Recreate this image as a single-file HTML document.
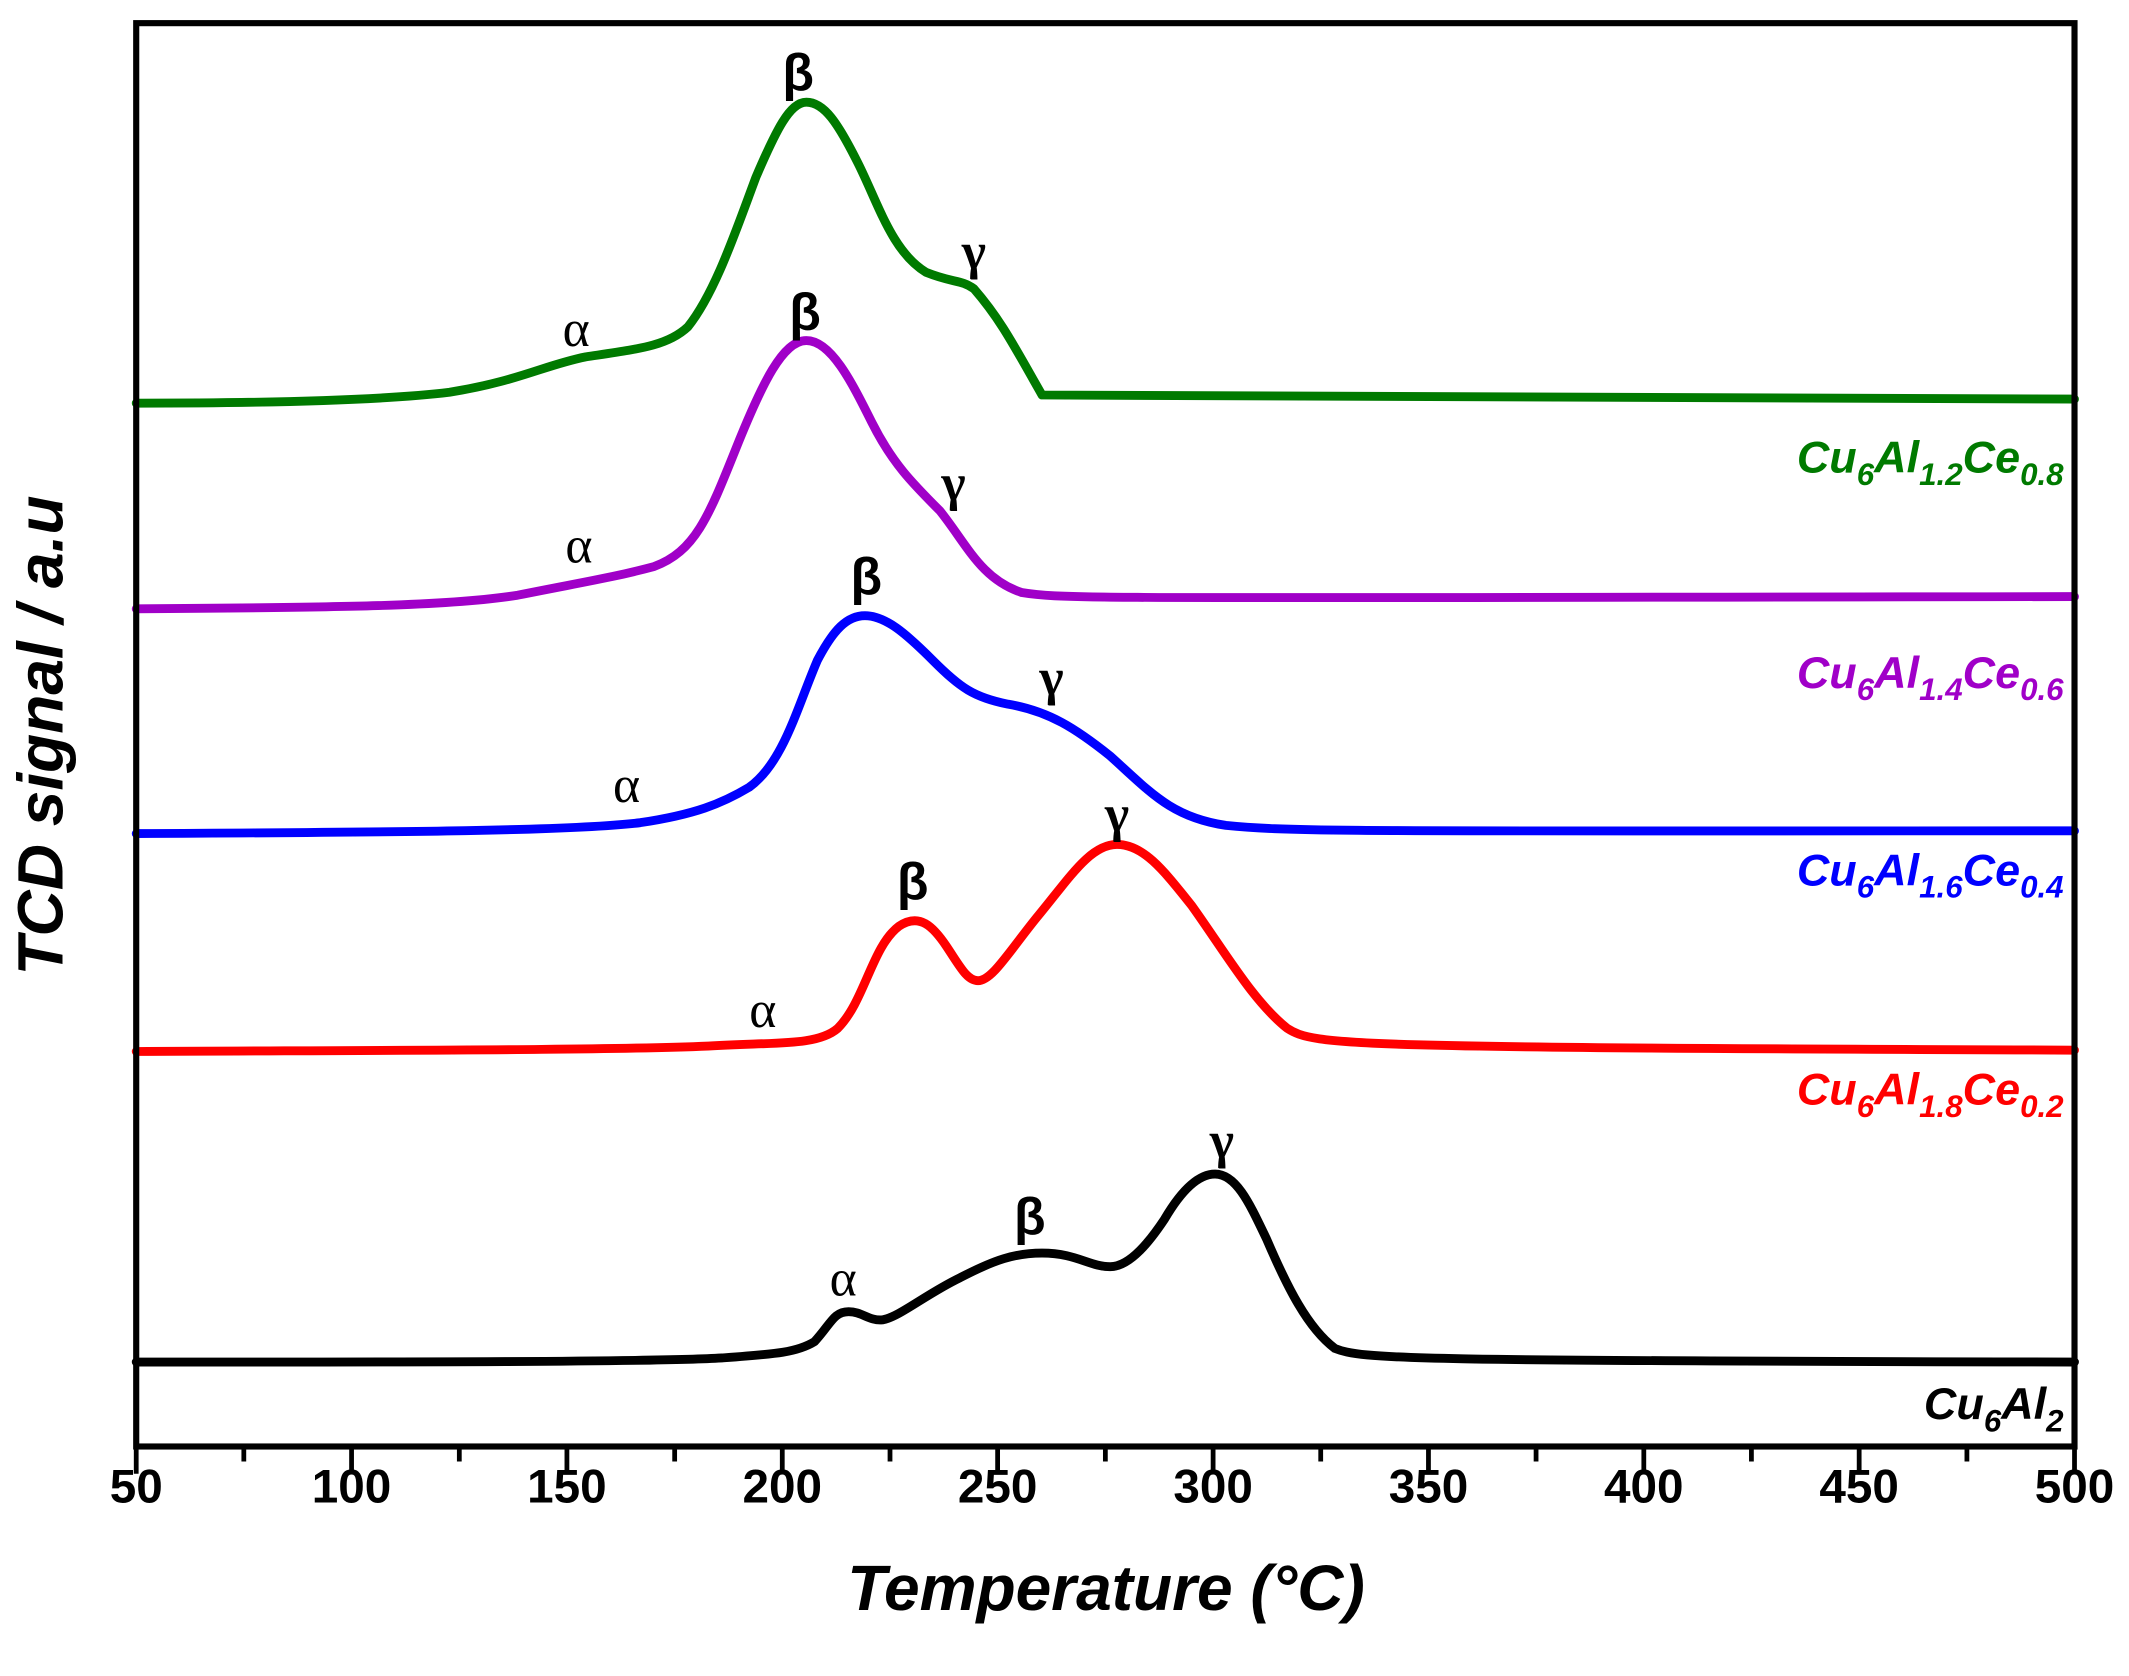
<!DOCTYPE html>
<html><head><meta charset="utf-8"><style>
html,body{margin:0;padding:0;background:#fff;}
svg{display:block;}
text{font-family:"Liberation Sans",sans-serif;}
.s{font-family:"Liberation Serif",serif;}
</style></head><body>
<svg width="2129" height="1676" viewBox="0 0 1563 1230.5" preserveAspectRatio="none" xmlns="http://www.w3.org/2000/svg">
<g fill="none" stroke-width="6.5" stroke-linejoin="round" stroke-linecap="round">
<path stroke="#007a00" d="M100,296 C200,296 280,294 330,288 C380,280 400,268 430,262 C470,256 490,254 505,240 C525,215 540,170 555,130 C570,95 580,75 592,75 C605,75 615,90 630,120 C645,150 655,185 680,200 C700,208 705,205 715,212 C735,235 745,255 765,290 L1523,293"/>
<path stroke="#a000c8" d="M100,447 C250,446 330,445 380,437 C430,427 450,424 480,416 C510,405 520,380 540,330 C560,280 575,250 592,250 C610,250 625,280 640,310 C655,340 670,355 690,375 C710,400 720,425 750,435 C780,440 800,439 1523,438"/>
<path stroke="#0000ff" d="M100,612 C300,611 420,610 470,604 C510,598 530,590 550,578 C575,560 585,520 600,485 C612,462 622,452 635,452 C650,452 665,465 685,485 C705,505 715,512 740,517 C770,522 790,535 815,555 C845,582 860,600 900,606 C950,611 1000,610 1523,610"/>
<path stroke="#ff0000" d="M100,772 C300,771 450,771 520,768 C570,765 600,768 615,755 C635,735 640,695 660,680 C675,670 685,680 695,695 C705,710 710,720 718,720 C728,720 740,700 760,675 C785,645 800,620 820,620 C840,620 855,640 875,665 C900,700 920,735 945,755 C965,768 990,769 1523,771"/>
<path stroke="#000" d="M100,1000 C300,1000 480,1000 530,997 C570,994 585,993 598,985 C610,972 612,963 623,963 C633,963 638,970 648,969 C660,967 680,950 705,938 C730,925 745,920 765,920 C790,920 800,930 815,930 C830,930 845,910 855,895 C865,878 878,862 892,862 C908,862 918,885 930,910 C945,945 960,975 980,990 C1000,998 1030,999 1523,1000"/>
</g>
<rect x="100" y="17" width="1423" height="1045" fill="none" stroke="#000" stroke-width="4.5"/>
<g stroke="#000" stroke-width="3.5">
<path d="M100,1062V1082M258.1,1062V1082M416.2,1062V1082M574.3,1062V1082M732.4,1062V1082M890.6,1062V1082M1048.7,1062V1082M1206.8,1062V1082M1364.9,1062V1082M1523,1062V1082"/>
<path d="M179,1062V1073M337.2,1062V1073M495.3,1062V1073M653.4,1062V1073M811.5,1062V1073M969.6,1062V1073M1127.7,1062V1073M1285.8,1062V1073M1444,1062V1073"/>
</g>
<g font-size="35" font-weight="bold" text-anchor="middle" fill="#000">
<text x="100" y="1103">50</text><text x="258.1" y="1103">100</text><text x="416.2" y="1103">150</text><text x="574.3" y="1103">200</text><text x="732.4" y="1103">250</text><text x="890.6" y="1103">300</text><text x="1048.7" y="1103">350</text><text x="1206.8" y="1103">400</text><text x="1364.9" y="1103">450</text><text x="1523" y="1103">500</text>
</g>
<text x="812" y="1182" font-size="47" font-style="italic" font-weight="bold" text-anchor="middle">Temperature (°C)</text>
<text transform="translate(46,540) rotate(-90)" font-size="47" font-style="italic" font-weight="bold" text-anchor="middle">TCD signal / a.u</text>
<g font-size="38" text-anchor="middle" fill="#000">
<text class="s" x="619" y="951">α</text><text x="756" y="906" font-weight="bold">β</text><text class="s" x="897" y="850" font-weight="bold">γ</text>
<text class="s" x="560" y="754">α</text><text x="670" y="660" font-weight="bold">β</text><text class="s" x="820" y="610" font-weight="bold">γ</text>
<text class="s" x="460" y="589">α</text><text x="636" y="436" font-weight="bold">β</text><text class="s" x="772" y="510" font-weight="bold">γ</text>
<text class="s" x="425" y="413">α</text><text x="591" y="242" font-weight="bold">β</text><text class="s" x="700" y="367" font-weight="bold">γ</text>
<text class="s" x="423" y="254">α</text><text x="586" y="66" font-weight="bold">β</text><text class="s" x="715" y="197" font-weight="bold">γ</text>
</g>
<g font-size="33" font-style="italic" font-weight="bold" text-anchor="end">
<text x="1515" y="347" fill="#007a00">Cu<tspan font-size="23" dy="9">6</tspan><tspan dy="-9">Al</tspan><tspan font-size="23" dy="9">1.2</tspan><tspan dy="-9">Ce</tspan><tspan font-size="23" dy="9">0.8</tspan></text>
<text x="1515" y="505" fill="#a000c8">Cu<tspan font-size="23" dy="9">6</tspan><tspan dy="-9">Al</tspan><tspan font-size="23" dy="9">1.4</tspan><tspan dy="-9">Ce</tspan><tspan font-size="23" dy="9">0.6</tspan></text>
<text x="1515" y="650" fill="#0000ff">Cu<tspan font-size="23" dy="9">6</tspan><tspan dy="-9">Al</tspan><tspan font-size="23" dy="9">1.6</tspan><tspan dy="-9">Ce</tspan><tspan font-size="23" dy="9">0.4</tspan></text>
<text x="1515" y="811" fill="#ff0000">Cu<tspan font-size="23" dy="9">6</tspan><tspan dy="-9">Al</tspan><tspan font-size="23" dy="9">1.8</tspan><tspan dy="-9">Ce</tspan><tspan font-size="23" dy="9">0.2</tspan></text>
<text x="1515" y="1042" fill="#000">Cu<tspan font-size="23" dy="9">6</tspan><tspan dy="-9">Al</tspan><tspan font-size="23" dy="9">2</tspan></text>
</g>
</svg>
</body></html>
